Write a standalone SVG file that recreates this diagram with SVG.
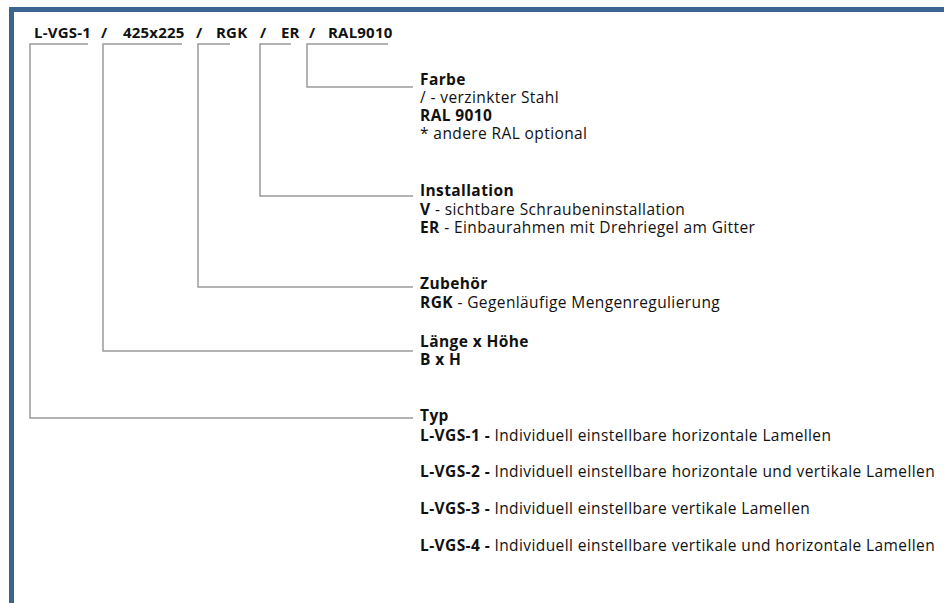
<svg xmlns="http://www.w3.org/2000/svg" width="944" height="603" viewBox="0 0 944 603">
<style>
text{font-family:"Open Sans","Liberation Sans",Arial,sans-serif;font-size:15.5px;letter-spacing:0.4px;fill:#111}
.b{font-weight:bold}
.hd{font-weight:bold;font-size:15px;letter-spacing:0.2px}
.ln{fill:none;stroke:#9a9a9a;stroke-width:1.5}
</style>
<rect width="944" height="603" fill="#fff"/>
<g id="frame">
<path d="M11.5 603 V9.5 H944" fill="none" stroke="#3b6591" stroke-width="5"/>
</g>
<g id="header">
<text class="hd" x="34" y="38">L-VGS-1</text>
<text class="hd" x="101" y="38">/</text>
<text class="hd" x="123" y="38">425x225</text>
<text class="hd" x="196" y="38">/</text>
<text class="hd" x="216" y="38">RGK</text>
<text class="hd" x="260" y="38">/</text>
<text class="hd" x="281" y="38">ER</text>
<text class="hd" x="309" y="38">/</text>
<text class="hd" x="328" y="38">RAL9010</text>
</g>
<g id="connectors">
<path class="ln" d="M88 44 H30 V418 H413"/>
<path class="ln" d="M182 44 H103 V351 H413"/>
<path class="ln" d="M230 44 H198 V287 H413"/>
<path class="ln" d="M291 44 H260 V196 H413"/>
<path class="ln" d="M388 44 H307 V87 H413"/>
</g>
<g id="farbe">
<text class="b" x="420" y="85">Farbe</text>
<text x="420" y="103">/ - verzinkter Stahl</text>
<text class="b" x="420" y="121">RAL 9010</text>
<text x="420" y="139">* andere RAL optional</text>
</g>
<g id="installation">
<text class="b" x="420" y="196">Installation</text>
<text x="420" y="215"><tspan class="b">V</tspan> - sichtbare Schraubeninstallation</text>
<text x="420" y="233"><tspan class="b">ER</tspan> - Einbaurahmen mit Drehriegel am Gitter</text>
</g>
<g id="zubehoer">
<text class="b" x="420" y="289">Zubehör</text>
<text x="420" y="308"><tspan class="b">RGK</tspan> - Gegenläufige Mengenregulierung</text>
</g>
<g id="laenge">
<text class="b" x="420" y="347">Länge x Höhe</text>
<text class="b" x="420" y="365">B x H</text>
</g>
<g id="typ">
<text class="b" x="420" y="421">Typ</text>
<text x="420" y="441"><tspan class="b">L-VGS-1 -</tspan> Individuell einstellbare horizontale Lamellen</text>
<text x="420" y="477"><tspan class="b">L-VGS-2 -</tspan> Individuell einstellbare horizontale und vertikale Lamellen</text>
<text x="420" y="514"><tspan class="b">L-VGS-3 -</tspan> Individuell einstellbare vertikale Lamellen</text>
<text x="420" y="551"><tspan class="b">L-VGS-4 -</tspan> Individuell einstellbare vertikale und horizontale Lamellen</text>
</g>
</svg>
